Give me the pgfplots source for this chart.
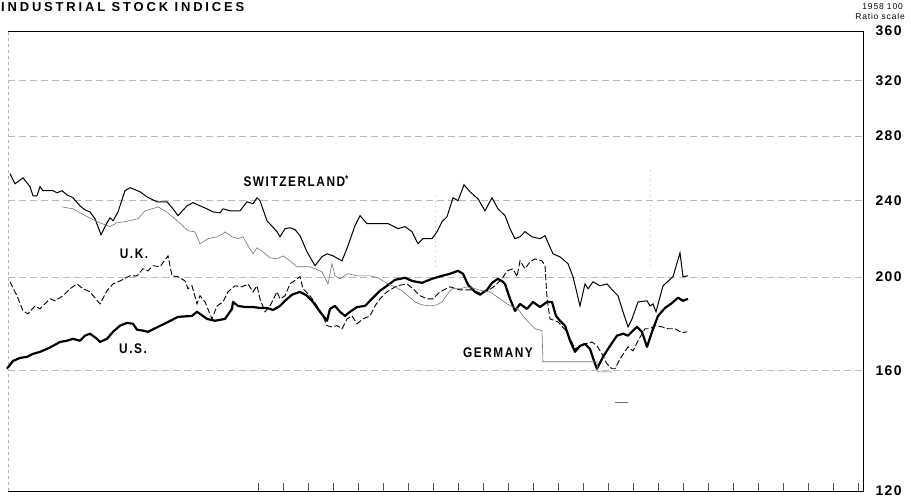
\documentclass[border=0pt]{standalone}
\usepackage{fontspec}
\setmainfont{Liberation Sans}
\newfontfamily\labfont[LetterSpace=10]{Liberation Sans}
\newfontfamily\condfont[LetterSpace=11,FakeStretch=0.85]{Liberation Sans}
\newfontfamily\titlefont[LetterSpace=22]{Liberation Sans}
\usepackage{pgfplots}
\pgfplotsset{compat=1.18}

\begin{document}
\begin{tikzpicture}
\begin{axis}[
  at={(8bp,6bp)}, anchor=south west,
  scale only axis, width=855bp, height=460bp,
  xmin=8, xmax=863, ymode=log, ymin=120, ymax=360,
  axis line style={draw=none},
  clip=false,
  xtick={258,283,...,858}, xticklabels={}, xtick pos=bottom,
  tick align=inside, major tick length=8bp,
  xtick style={gray!70!black, line width=0.5bp},
  ytick={120,160,200,240,280,320,360},
  yticklabels={120,160,200,240,280,320,360},
  ytick pos=right, yticklabel pos=right,
  ytick style={draw=none},
  yticklabel style={font=\labfont\bfseries\fontsize{14}{14}\selectfont, anchor=west, xshift=9bp},
  ymajorgrids,
  major grid style={dash pattern=on 7bp off 4bp, gray!55, line width=0.5bp},
]
% Switzerland
\addplot[black, line width=1bp] coordinates {
(10,256.0)(15,249.9)(23,253.5)(30,248.2)(33,242.8)(37,242.8)(40,248.2)(43,245.8)(53,245.8)(57,244.6)(62,245.8)(67,243.4)(73,241.7)(80,237.1)(85,234.8)(90,233.7)(95,229.9)(98,225.6)(101,221.3)(107,227.7)(110,230.4)(113,228.8)(118,233.7)(125,245.8)(130,247.6)(140,245.2)(147,242.2)(157,239.4)(167,239.4)(173,235.4)(178,231.6)(187,237.1)(193,238.9)(200,237.1)(207,235.4)(213,233.7)(220,233.2)(223,235.4)(230,234.3)(240,234.3)(247,239.4)(253,238.3)(257,241.7)(260,240.0)(267,228.8)(277,222.9)(280,220.2)(285,224.5)(290,225.0)(295,224.0)(300,220.8)(307,212.4)(315,205.5)(322,210.0)(327,211.4)(333,210.4)(342,207.9)(348,215.6)(355,226.1)(360,231.6)(367,227.2)(375,227.2)(388,227.2)(398,224.5)(405,225.6)(412,222.9)(418,216.6)(423,219.2)(432,219.2)(437,222.9)(442,228.3)(447,231.0)(453,241.7)(458,240.0)(464,249.3)(470,245.2)(478,241.1)(485,234.3)(492,241.7)(498,235.4)(505,231.6)(510,224.5)(515,219.2)(520,220.2)(525,222.9)(532,220.2)(540,219.2)(545,220.8)(553,211.4)(560,209.9)(568,206.5)(573,200.2)(580,186.7)(585,196.8)(588,194.5)(593,197.8)(600,195.9)(607,196.8)(613,193.6)(618,191.3)(623,184.1)(628,177.6)(632,181.0)(638,188.5)(647,189.0)(650,186.7)(653,187.6)(656,184.1)(663,195.9)(673,200.2)(680,211.9)(683,200.2)(688,200.6)
};
% U.K.
\addplot[black, line width=0.9bp, dash pattern=on 6bp off 2.5bp] coordinates {
(10,197.8)(17,191.3)(23,184.5)(28,183.2)(35,186.7)(40,185.4)(50,189.9)(55,189.0)(63,191.3)(70,194.5)(77,196.8)(83,194.5)(90,193.1)(100,187.6)(107,193.6)(113,196.8)(120,198.2)(130,200.6)(137,200.6)(143,204.0)(148,203.0)(153,205.5)(160,205.0)(168,210.4)(172,200.6)(178,200.2)(185,198.2)(188,194.5)(192,195.9)(197,187.6)(200,191.3)(205,188.5)(212,181.0)(217,186.7)(223,188.5)(228,193.1)(235,195.9)(242,195.4)(248,196.8)(253,193.1)(257,195.9)(260,189.9)(265,184.1)(270,186.7)(277,193.1)(280,189.9)(285,191.3)(290,196.8)(297,199.2)(300,200.2)(303,194.5)(310,191.3)(317,186.7)(322,183.2)(327,178.1)(332,177.6)(337,178.1)(342,176.8)(347,181.0)(352,182.3)(357,178.9)(363,181.0)(370,182.3)(375,186.7)(380,189.9)(387,193.1)(397,195.9)(407,196.8)(413,194.5)(420,191.3)(427,189.9)(433,189.9)(440,193.1)(450,195.4)(460,194.0)(470,194.0)(480,192.7)(488,193.6)(495,195.9)(502,199.2)(507,203.0)(513,204.0)(517,200.2)(520,207.9)(525,204.0)(530,207.4)(535,208.9)(542,207.9)(545,205.5)(547,189.9)(550,181.0)(558,179.7)(567,175.5)(575,168.5)(585,170.5)(592,171.3)(597,169.7)(602,166.5)(607,162.6)(612,160.7)(615,160.7)(620,164.5)(628,169.3)(633,167.7)(638,171.8)(645,176.8)(650,176.8)(655,178.1)(662,177.6)(668,176.8)(675,176.8)(682,175.1)(687,175.5)
};
% U.S.
\addplot[black, line width=2.2bp, line join=round] coordinates {
(7,160.7)(13,163.7)(20,164.9)(27,165.3)(33,166.5)(40,167.3)(47,168.5)(53,169.7)(60,171.3)(67,171.8)(73,172.6)(80,171.8)(85,173.9)(90,174.7)(97,172.6)(100,171.3)(107,172.6)(113,175.5)(120,178.1)(127,179.3)(133,178.9)(137,176.4)(143,176.0)(148,175.5)(158,177.6)(168,179.7)(178,181.9)(192,182.3)(197,184.1)(200,183.2)(207,181.0)(215,180.2)(225,181.0)(232,185.4)(233,188.5)(238,186.7)(245,186.2)(253,186.2)(260,185.8)(267,185.8)(273,184.9)(280,186.7)(285,189.0)(292,191.8)(300,193.1)(307,191.3)(313,188.5)(320,184.1)(327,180.2)(330,185.4)(335,186.7)(340,184.1)(345,182.3)(350,184.1)(357,186.2)(365,186.7)(373,190.4)(380,193.6)(387,195.9)(395,198.7)(405,199.7)(412,198.2)(422,197.3)(432,199.2)(442,200.6)(450,201.6)(458,203.0)(463,201.6)(468,196.4)(475,193.1)(480,191.8)(487,194.0)(492,197.3)(498,199.2)(503,197.8)(505,196.8)(510,189.9)(515,184.5)(520,187.6)(527,185.4)(533,188.5)(540,186.2)(547,188.5)(552,188.5)(556,182.3)(560,180.2)(565,178.1)(570,171.8)(575,167.3)(580,169.7)(585,170.5)(590,168.5)(595,162.6)(597,160.7)(603,165.3)(610,169.7)(617,173.9)(623,174.7)(628,173.9)(633,176.0)(637,177.6)(642,175.5)(647,169.3)(652,175.5)(658,182.3)(665,185.8)(672,188.0)(678,190.4)(683,189.0)(688,189.9)
};
% Germany
\addplot[black!55, line width=0.6bp] coordinates {
(62,236.5)(73,235.4)(87,231.1)(97,228.3)(110,225.6)(117,227.7)(125,228.3)(138,229.9)(145,234.3)(152,235.4)(158,236.5)(165,234.3)(175,229.9)(188,223.4)(195,222.8)(200,216.6)(208,219.2)(217,220.2)(223,221.8)(225,222.8)(232,220.2)(238,219.2)(243,220.2)(248,215.6)(253,211.4)(257,214.5)(263,212.4)(270,209.4)(277,208.9)(283,210.4)(290,207.9)(297,205.0)(310,205.0)(315,204.0)(322,202.5)(328,196.8)(332,206.5)(335,200.6)(340,199.2)(348,201.6)(357,200.6)(363,200.6)(370,200.6)(378,199.7)(383,198.2)(388,196.8)(395,195.4)(402,193.6)(408,191.3)(415,188.5)(422,187.2)(430,186.7)(437,187.2)(442,188.5)(447,191.8)(452,194.5)(460,194.5)(467,195.4)(475,194.5)(482,193.6)(490,193.1)(500,189.9)(507,187.6)(513,186.2)(518,185.4)(523,182.3)(530,178.9)(535,176.8)(542,176.0)(543,163.4)(597,163.4)(598,159.5)(612,159.5)
};
\addplot[black!55, line width=0.6bp] coordinates {(615,148.4)(628,148.4)};
% frame
\draw[black, line width=0.9bp] (rel axis cs:0,1) -- (rel axis cs:1,1) -- (rel axis cs:1,0) -- (rel axis cs:0,0);
\draw[gray!60, line width=0.5bp, dash pattern=on 3bp off 3bp] (rel axis cs:0,0) -- (rel axis cs:0,1);
\draw[gray!50, line width=0.4bp, dash pattern=on 1bp off 4bp] (axis cs:435,243) -- (axis cs:435,205);
\draw[gray!50, line width=0.4bp, dash pattern=on 1bp off 4bp] (axis cs:650,258) -- (axis cs:650,205);
% labels
\node[font=\condfont\bfseries\fontsize{14}{14}\selectfont] at (axis cs:296,251.7) {SWITZERLAND\raisebox{4bp}{\fontsize{10}{10}\selectfont*}};
\node[font=\condfont\bfseries\fontsize{14}{14}\selectfont] at (axis cs:134,211.4) {U.K.};
\node[font=\condfont\bfseries\fontsize{14}{14}\selectfont] at (axis cs:133,168.5) {U.S.};
\node[font=\condfont\bfseries\fontsize{14}{14}\selectfont] at (axis cs:498,166.9) {GERMANY};
\end{axis}
\node[anchor=base west, inner sep=0pt, font=\titlefont\bfseries\fontsize{13}{13}\selectfont] at (1bp,485bp) {INDUSTRIAL STOCK INDICES};
\node[anchor=base east, inner sep=0pt, font=\labfont\fontsize{8.5}{8.5}\selectfont] at (903bp,487bp) {1958 100};
\node[anchor=base east, inner sep=0pt, font=\labfont\fontsize{8.5}{8.5}\selectfont] at (905bp,477bp) {Ratio scale};
\pgfresetboundingbox
\useasboundingbox (0bp,0bp) rectangle (911bp,497bp);
\end{tikzpicture}
\end{document}
